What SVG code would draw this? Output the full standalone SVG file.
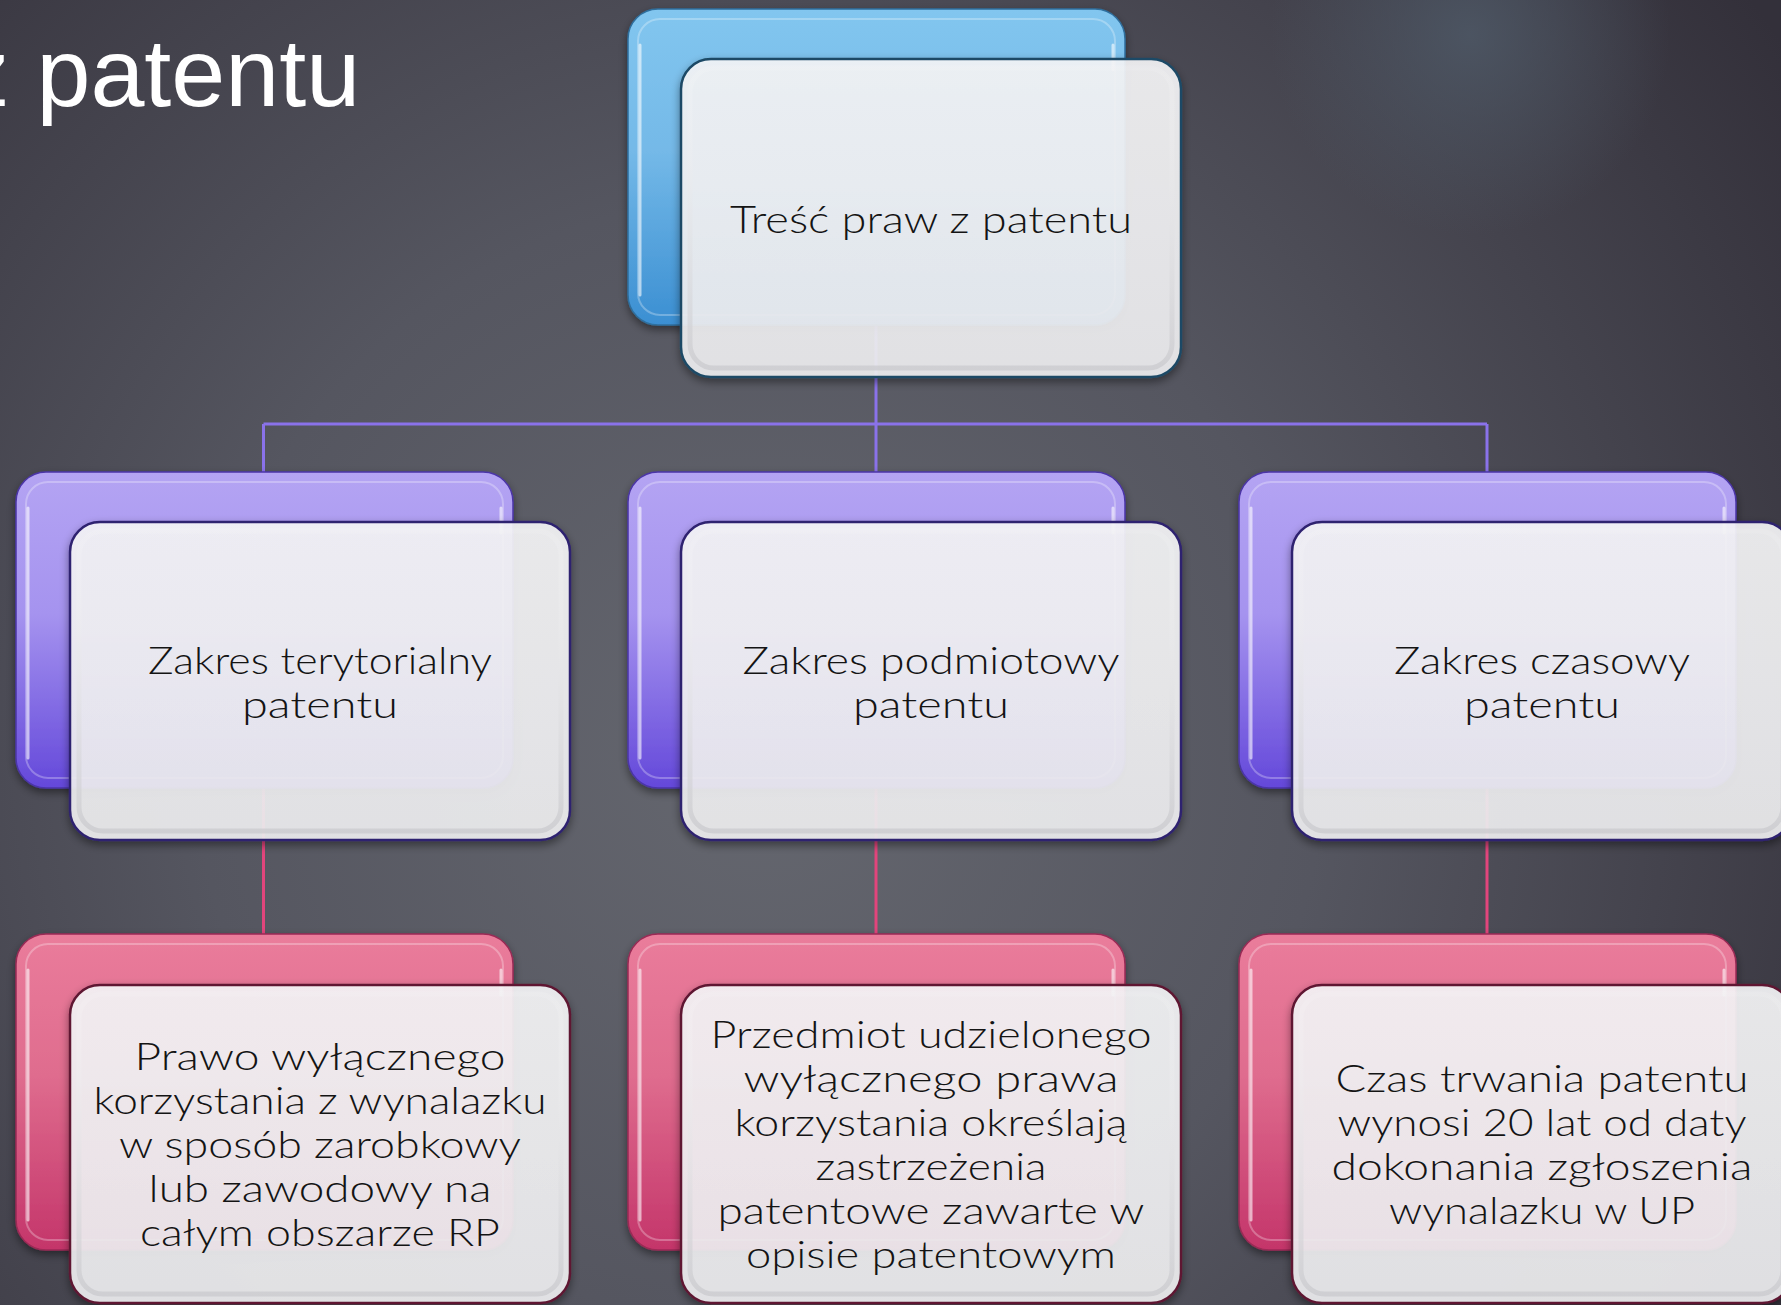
<svg xmlns="http://www.w3.org/2000/svg" width="1781" height="1305" viewBox="0 0 1781 1305">
<defs>
  <radialGradient id="bg" cx="760" cy="760" r="1250" gradientUnits="userSpaceOnUse">
    <stop offset="0" stop-color="#65676f"/>
    <stop offset="0.45" stop-color="#555660"/>
    <stop offset="1" stop-color="#33303a"/>
  </radialGradient>
  <radialGradient id="spot" cx="1470" cy="35" r="200" gradientUnits="userSpaceOnUse">
    <stop offset="0" stop-color="#4f5a68" stop-opacity="0.8"/>
    <stop offset="1" stop-color="#4f5a68" stop-opacity="0"/>
  </radialGradient>
  <linearGradient id="gBlue" x1="0" y1="0" x2="0" y2="1">
    <stop offset="0" stop-color="#82c6ef"/>
    <stop offset="0.45" stop-color="#74b9e8"/>
    <stop offset="1" stop-color="#3b8fd2"/>
  </linearGradient>
  <linearGradient id="gPurple" x1="0" y1="0" x2="0" y2="1">
    <stop offset="0" stop-color="#b4a4f3"/>
    <stop offset="0.45" stop-color="#a593ef"/>
    <stop offset="1" stop-color="#6448da"/>
  </linearGradient>
  <linearGradient id="gPink" x1="0" y1="0" x2="0" y2="1">
    <stop offset="0" stop-color="#ea7c9b"/>
    <stop offset="0.45" stop-color="#df6c8e"/>
    <stop offset="1" stop-color="#c4356a"/>
  </linearGradient>
  <linearGradient id="gFront" x1="0" y1="0" x2="0" y2="1">
    <stop offset="0" stop-color="#f6f6f8"/>
    <stop offset="1" stop-color="#eeeef0"/>
  </linearGradient>
  <linearGradient id="gRim" x1="0" y1="0" x2="0" y2="1">
    <stop offset="0" stop-color="#ffffff" stop-opacity="0.1"/>
    <stop offset="1" stop-color="#c8c8cc" stop-opacity="0.7"/>
  </linearGradient>
  <filter id="shadow" x="-10%" y="-10%" width="120%" height="125%">
    <feDropShadow dx="0" dy="4" stdDeviation="4" flood-color="#000" flood-opacity="0.45"/>
  </filter>
</defs>
<style>
  .back { stroke-width: 1.5; filter: url(#shadow); }
  .blue { fill: url(#gBlue); stroke: #2f6f9e; }
  .purple { fill: url(#gPurple); stroke: #4b35a8; }
  .pink { fill: url(#gPink); stroke: #9a2a55; }
  .gloss { fill: none; stroke: #ffffff; stroke-opacity: 0.28; stroke-width: 2; }
  .hl { fill: none; stroke: #ffffff; stroke-opacity: 0.6; stroke-width: 3; stroke-linecap: round; }
  .front { fill: url(#gFront); fill-opacity: 0.9; stroke-width: 2.5; filter: url(#shadow); }
  .fBlue { stroke: #1d4a66; }
  .fPurple { stroke: #2f2270; }
  .fPink { stroke: #5e1832; }
  .rim { fill: none; stroke: url(#gRim); stroke-width: 5; }
  .conP { stroke: #8a72ea; stroke-width: 3; fill: none; }
  .conR { stroke: #e2457c; stroke-width: 3; fill: none; }
  .lbl { font-family: Lato, "Noto Sans", "DejaVu Sans", sans-serif; font-weight: 300; font-size: 37px; fill: #141414; text-anchor: middle; }
  .title { font-family: "Liberation Sans", Arial, sans-serif; font-size: 97px; fill: #ffffff; }
</style>

<rect x="0" y="0" width="1781" height="1305" fill="url(#bg)"/>
<rect x="0" y="0" width="1781" height="1305" fill="url(#spot)"/>

<text class="title" x="-39" y="106">z patentu</text>

<g id="connectors">
  <path class="conP" d="M876 326 V424 M263.5 424 H1487 M263.5 424 V472 M876 424 V472 M1487 424 V472"/>
  <path class="conR" d="M263.5 787 V934 M876 787 V934 M1487 787 V934"/>
</g>

<g id="node-root">
  <rect class="back blue" x="628" y="9" width="497" height="316" rx="30"/>
  <rect class="gloss" x="638" y="19" width="477" height="296" rx="22"/>
  <path class="hl" d="M640 45 V295 M1113 45 V70"/>
  <rect class="front fBlue" x="681" y="59" width="500" height="318" rx="30"/>
  <rect class="rim" x="690" y="68" width="482" height="300" rx="24"/>
  <text class="lbl" x="931" y="233" textLength="402" lengthAdjust="spacingAndGlyphs">Treść praw z patentu</text>
</g>

<g id="node-terytorialny">
  <rect class="back purple" x="16" y="472" width="497" height="316" rx="30"/>
  <rect class="gloss" x="26" y="482" width="477" height="296" rx="22"/>
  <path class="hl" d="M28 508 V758 M501 508 V533"/>
  <rect class="front fPurple" x="70" y="522" width="500" height="318" rx="30"/>
  <rect class="rim" x="79" y="531" width="482" height="300" rx="24"/>
  <text class="lbl" x="320" y="674" textLength="344" lengthAdjust="spacingAndGlyphs">Zakres terytorialny</text>
  <text class="lbl" x="320" y="718" textLength="156" lengthAdjust="spacingAndGlyphs">patentu</text>
</g>

<g id="node-podmiotowy">
  <rect class="back purple" x="628" y="472" width="497" height="316" rx="30"/>
  <rect class="gloss" x="638" y="482" width="477" height="296" rx="22"/>
  <path class="hl" d="M640 508 V758 M1113 508 V533"/>
  <rect class="front fPurple" x="681" y="522" width="500" height="318" rx="30"/>
  <rect class="rim" x="690" y="531" width="482" height="300" rx="24"/>
  <text class="lbl" x="931" y="674" textLength="377" lengthAdjust="spacingAndGlyphs">Zakres podmiotowy</text>
  <text class="lbl" x="931" y="718" textLength="156" lengthAdjust="spacingAndGlyphs">patentu</text>
</g>

<g id="node-czasowy">
  <rect class="back purple" x="1239" y="472" width="497" height="316" rx="30"/>
  <rect class="gloss" x="1249" y="482" width="477" height="296" rx="22"/>
  <path class="hl" d="M1251 508 V758 M1724 508 V533"/>
  <rect class="front fPurple" x="1292" y="522" width="500" height="318" rx="30"/>
  <rect class="rim" x="1301" y="531" width="482" height="300" rx="24"/>
  <text class="lbl" x="1542" y="674" textLength="296" lengthAdjust="spacingAndGlyphs">Zakres czasowy</text>
  <text class="lbl" x="1542" y="718" textLength="156" lengthAdjust="spacingAndGlyphs">patentu</text>
</g>

<g id="node-prawo">
  <rect class="back pink" x="16" y="934" width="497" height="316" rx="30"/>
  <rect class="gloss" x="26" y="944" width="477" height="296" rx="22"/>
  <path class="hl" d="M28 970 V1220 M501 970 V995"/>
  <rect class="front fPink" x="70" y="985" width="500" height="318" rx="30"/>
  <rect class="rim" x="79" y="994" width="482" height="300" rx="24"/>
  <text class="lbl" x="320" y="1070" textLength="371" lengthAdjust="spacingAndGlyphs">Prawo wyłącznego</text>
  <text class="lbl" x="320" y="1114" textLength="453" lengthAdjust="spacingAndGlyphs">korzystania z wynalazku</text>
  <text class="lbl" x="320" y="1158" textLength="402" lengthAdjust="spacingAndGlyphs">w sposób zarobkowy</text>
  <text class="lbl" x="320" y="1202" textLength="343" lengthAdjust="spacingAndGlyphs">lub zawodowy na</text>
  <text class="lbl" x="320" y="1246" textLength="360" lengthAdjust="spacingAndGlyphs">całym obszarze RP</text>
</g>

<g id="node-przedmiot">
  <rect class="back pink" x="628" y="934" width="497" height="316" rx="30"/>
  <rect class="gloss" x="638" y="944" width="477" height="296" rx="22"/>
  <path class="hl" d="M640 970 V1220 M1113 970 V995"/>
  <rect class="front fPink" x="681" y="985" width="500" height="318" rx="30"/>
  <rect class="rim" x="690" y="994" width="482" height="300" rx="24"/>
  <text class="lbl" x="931" y="1048" textLength="441" lengthAdjust="spacingAndGlyphs">Przedmiot udzielonego</text>
  <text class="lbl" x="931" y="1092" textLength="375" lengthAdjust="spacingAndGlyphs">wyłącznego prawa</text>
  <text class="lbl" x="931" y="1136" textLength="393" lengthAdjust="spacingAndGlyphs">korzystania określają</text>
  <text class="lbl" x="931" y="1180" textLength="231" lengthAdjust="spacingAndGlyphs">zastrzeżenia</text>
  <text class="lbl" x="931" y="1224" textLength="427" lengthAdjust="spacingAndGlyphs">patentowe zawarte w</text>
  <text class="lbl" x="931" y="1268" textLength="370" lengthAdjust="spacingAndGlyphs">opisie patentowym</text>
</g>

<g id="node-czas">
  <rect class="back pink" x="1239" y="934" width="497" height="316" rx="30"/>
  <rect class="gloss" x="1249" y="944" width="477" height="296" rx="22"/>
  <path class="hl" d="M1251 970 V1220 M1724 970 V995"/>
  <rect class="front fPink" x="1292" y="985" width="500" height="318" rx="30"/>
  <rect class="rim" x="1301" y="994" width="482" height="300" rx="24"/>
  <text class="lbl" x="1542" y="1092" textLength="413" lengthAdjust="spacingAndGlyphs">Czas trwania patentu</text>
  <text class="lbl" x="1542" y="1136" textLength="409" lengthAdjust="spacingAndGlyphs">wynosi 20 lat od daty</text>
  <text class="lbl" x="1542" y="1180" textLength="421" lengthAdjust="spacingAndGlyphs">dokonania zgłoszenia</text>
  <text class="lbl" x="1542" y="1224" textLength="306" lengthAdjust="spacingAndGlyphs">wynalazku w UP</text>
</g>
</svg>
